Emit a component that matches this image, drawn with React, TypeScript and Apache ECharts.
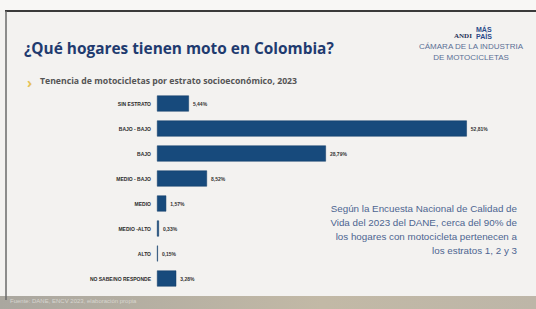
import React, { useEffect, useRef } from "react";
import * as echarts from "echarts";

const categories = ["SIN ESTRATO", "BAJO - BAJO", "BAJO", "MEDIO - BAJO", "MEDIO", "MEDIO -ALTO", "ALTO", "NO SABE/NO RESPONDE"];
const values = [5.44, 52.81, 28.79, 8.52, 1.57, 0.33, 0.15, 3.28];
const noteLines = [
  "Según la Encuesta Nacional de Calidad de",
  "Vida del 2023 del DANE, cerca del 90% de",
  "los hogares con motocicleta pertenecen a",
  "los estratos 1, 2 y 3",
];

export default function App() {
  const ref = useRef<HTMLDivElement>(null);
  useEffect(() => {
    const chart = echarts.init(ref.current!, null, { renderer: "svg" });
    const noteTexts = noteLines.map((t, i) => ({
      type: "text",
      right: 19,
      top: 203 + i * 14,
      style: { text: t, fill: "#4d6590", font: "9.8px 'Liberation Sans', sans-serif", textAlign: "right" },
    }));
    chart.setOption({
      animation: false,
      backgroundColor: "#f3f2f0",
      graphic: [
        { type: "rect", shape: { x: 0, y: 0, width: 536, height: 10 }, style: { fill: "#f8f7f5" } },
        { type: "rect", shape: { x: 0, y: 296, width: 536, height: 13 }, style: { fill: new echarts.graphic.LinearGradient(0, 0, 1, 0, [{ offset: 0, color: "#aaa79f" }, { offset: 0.6, color: "#c2b9a6" }, { offset: 1, color: "#bdb6a8" }]) } },
        { type: "line", shape: { x1: 5, y1: 11, x2: 536, y2: 11 }, style: { stroke: "#3a3a3a", lineWidth: 2 } },
        { type: "line", shape: { x1: 6, y1: 11, x2: 6, y2: 300 }, style: { stroke: "#6a6a6a", lineWidth: 1.5 } },
        { type: "text", left: 24, top: 41, style: { text: "¿Qué hogares tienen moto en Colombia?", fill: "#1f3b6f", font: "bold 15.4px 'Open Sans', sans-serif" } },
        { type: "text", left: 27, top: 75, style: { text: "›", fill: "#e6c25a", font: "bold 14px 'Noto Sans', sans-serif" } },
        { type: "text", left: 40, top: 76, style: { text: "Tenencia de motocicletas por estrato socioeconómico, 2023", fill: "#555555", font: "bold 8.7px 'Open Sans', sans-serif" } },
        { type: "text", left: 454, top: 32, style: { text: "ANDI", fill: "#1f2f55", font: "bold 7px 'Liberation Serif', serif" } },
        { type: "text", left: 476, top: 26, style: { text: "MÁS\nPAÍS", fill: "#2a4a8a", font: "bold 7px 'Liberation Sans', sans-serif", lineHeight: 6.5 } },
        { type: "text", x: 471, top: 42, style: { text: "CÁMARA DE LA INDUSTRIA", fill: "#5a6f95", font: "8px 'Liberation Sans', sans-serif", textAlign: "center" } },
        { type: "text", x: 471, top: 53, style: { text: "DE MOTOCICLETAS", fill: "#5a6f95", font: "8px 'Liberation Sans', sans-serif", textAlign: "center" } },
        { type: "text", left: 10, top: 298, style: { text: "Fuente: DANE, ENCV 2023, elaboración propia", fill: "#d8d6d0", font: "6px 'Liberation Sans', sans-serif" } },
        ...noteTexts,
      ],
      grid: { left: 157, top: 91, width: 352, height: 200, containLabel: false },
      xAxis: { type: "value", min: 0, max: 60, show: false },
      yAxis: {
        type: "category",
        data: categories,
        inverse: true,
        axisLine: { show: false },
        axisTick: { show: false },
        axisLabel: { fontSize: 5, fontWeight: "bold", color: "#2a2a2a", margin: 6, fontFamily: "Liberation Sans" },
      },
      series: [
        {
          type: "bar",
          data: values,
          barWidth: 16,
          itemStyle: { color: "#174a7c", borderColor: "#0f3a66", borderWidth: 0.5 },
          label: {
            show: true,
            position: "right",
            distance: 4,
            fontSize: 5,
            fontWeight: "bold",
            color: "#333",
            fontFamily: "Liberation Sans",
            formatter: (p: any) => p.value.toFixed(2).replace(".", ",") + "%",
          },
        },
      ],
    });
    return () => chart.dispose();
  }, []);
  return <div ref={ref} style={{ position: "fixed", left: 0, top: 0, width: 536, height: 309 }} />;
}
